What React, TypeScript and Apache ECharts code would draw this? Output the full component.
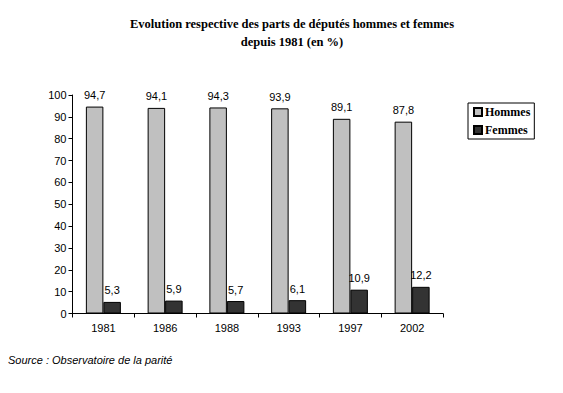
import React, { useEffect, useRef } from "react";
import * as echarts from "echarts";

const years = ["1981", "1986", "1988", "1993", "1997", "2002"];
const hommes = [94.7, 94.1, 94.3, 93.9, 89.1, 87.8];
const femmes = [5.3, 5.9, 5.7, 6.1, 10.9, 12.2];
const yTicks = [0, 10, 20, 30, 40, 50, 60, 70, 80, 90, 100];

const fmt = (p: any) => String(p.value).replace(".", ",");

export default function App() {
  const ref = useRef<HTMLDivElement>(null);
  useEffect(() => {
    if (!ref.current) return;
    const chart = echarts.init(ref.current, null, { renderer: "svg" });
    const labelStyle = {
      show: true,
      position: "top" as const,
      distance: 6,
      formatter: fmt,
      color: "#000",
      fontFamily: "Liberation Sans, Arial",
      fontSize: 11,
    };
    chart.setOption({
      animation: false,
      backgroundColor: "#fff",
      title: {
        text: "Evolution respective des parts de députés hommes et femmes\ndepuis 1981 (en %)",
        left: 287,
        top: 10,
        textAlign: "center",
        textStyle: {
          fontFamily: "Liberation Serif, Times New Roman",
          fontWeight: "bold",
          fontSize: 12.5,
          lineHeight: 18,
          color: "#000",
        },
      },
      legend: {
        orient: "vertical",
        left: 468,
        top: 103,
        padding: [3, 4, 3, 5],
        itemGap: 6,
        itemWidth: 8,
        itemHeight: 8,
        borderColor: "#000",
        borderWidth: 1,
        borderRadius: 0,
        icon: "rect",
        data: ["Hommes", "Femmes"],
        textStyle: {
          fontFamily: "Liberation Serif, Times New Roman",
          fontWeight: "bold",
          fontSize: 12,
          color: "#000",
          padding: [0, 0, 0, -2],
        },
      },
      grid: { left: 72.5, right: 120, top: 95, bottom: 79.5 },
      xAxis: {
        type: "category",
        data: years,
        axisLine: { lineStyle: { color: "#000", width: 1 } },
        axisTick: { show: true, length: 4, lineStyle: { color: "#000" }, alignWithLabel: false },
        axisLabel: {
          color: "#000",
          fontFamily: "Liberation Sans, Arial",
          fontSize: 11,
          margin: 9,
        },
      },
      yAxis: {
        type: "value",
        min: yTicks[0],
        max: yTicks[yTicks.length - 1],
        interval: 10,
        splitLine: { show: false },
        axisLine: { show: true, lineStyle: { color: "#000", width: 1 } },
        axisTick: { show: true, length: 4, lineStyle: { color: "#000" } },
        axisLabel: {
          color: "#000",
          fontFamily: "Liberation Sans, Arial",
          fontSize: 11,
          margin: 6,
        },
      },
      series: [
        {
          name: "Hommes",
          type: "bar",
          data: hommes,
          barWidth: 17.5,
          barGap: "0%",
          itemStyle: { color: "#C0C0C0", borderColor: "#000", borderWidth: 1 },
          label: labelStyle,
        },
        {
          name: "Femmes",
          type: "bar",
          data: femmes,
          barWidth: 17.5,
          barGap: "0%",
          itemStyle: { color: "#333333", borderColor: "#000", borderWidth: 1 },
          label: labelStyle,
        },
      ],
      graphic: [
        {
          type: "text",
          left: 8,
          top: 354,
          style: {
            text: "Source : Observatoire de la parité",
            fontFamily: "Liberation Sans, Arial",
            fontStyle: "italic",
            fontSize: 11,
            fill: "#000",
          },
        },
      ],
    });
    return () => chart.dispose();
  }, []);
  return (
    <div
      ref={ref}
      style={{ position: "fixed", left: 0, top: 0, width: 563, height: 393 }}
    />
  );
}
